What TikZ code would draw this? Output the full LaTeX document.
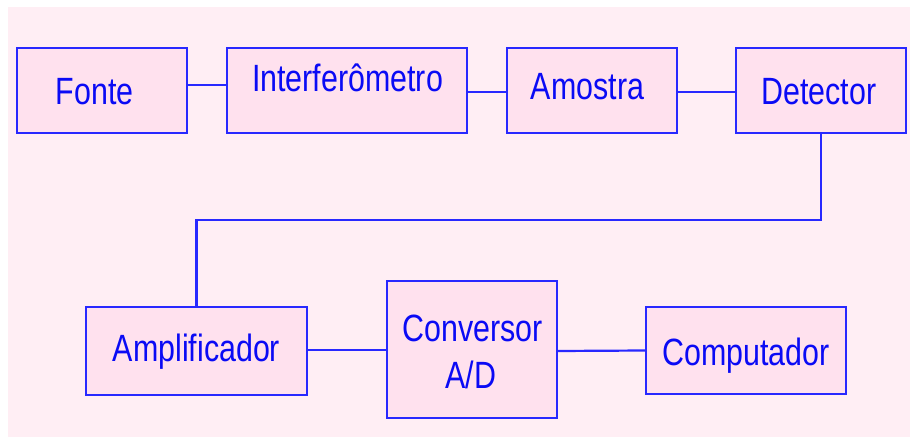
\documentclass[tikz,border=0pt]{standalone}
\usepackage{fontspec}
\setmainfont{Liberation Sans}[FakeStretch=0.8]
\definecolor{pagebg}{RGB}{255,238,244}
\definecolor{boxfill}{RGB}{255,225,238}
\definecolor{boxline}{RGB}{40,40,255}
\definecolor{labelblue}{RGB}{10,10,245}
\begin{document}
\begin{tikzpicture}[x=1pt,y=-1pt,
  stage/.style={draw=boxline,fill=boxfill,line width=2.2pt,rectangle,inner sep=0pt},
  lbl/.style={text=labelblue,font=\fontsize{38}{47}\selectfont,anchor=base,inner sep=0pt},
  wire/.style={draw=boxline,line width=2.2pt}]
  \useasboundingbox (0,0) rectangle (910,438);
  \fill[pagebg] (8,7) rectangle (910,437);

  % top row
  \node[stage,minimum width=170pt,minimum height=85pt] (fonte)   at (102,90.5) {};
  \node[stage,minimum width=240pt,minimum height=85pt] (interf)  at (347,90.5) {};
  \node[stage,minimum width=170pt,minimum height=85pt] (amostra) at (592,90.5) {};
  \node[stage,minimum width=170pt,minimum height=85pt] (detect)  at (821,90.5) {};

  % bottom row
  \node[stage,minimum width=221pt,minimum height=88pt]  (ampl) at (196.5,351) {};
  \node[stage,minimum width=170pt,minimum height=137pt] (conv) at (472,349.5) {};
  \node[stage,minimum width=200pt,minimum height=87pt]  (comp) at (746,350.5) {};

  % labels
  \node[lbl] (tfonte)   at (94.5,105) {Fonte};
  \node[lbl] (tinterf)  at (347.5,92) {Interferômetro};
  \node[lbl] (tamostra) at (587.5,100) {Amostra};
  \node[lbl] (tdetect)  at (819,105) {Detector};
  \node[lbl] (tampl)    at (196.5,361) {Amplificador};
  \node[lbl] (tconv)    at (472.5,341) {Conversor};
  \node[lbl] (tad)      at (471,388) {A/D};
  \node[lbl] (tcomp)    at (746,365) {Computador};

  % connectors
  \draw[wire] ([yshift=5.5pt]fonte.east) -- ([yshift=5.5pt]interf.west);
  \draw[wire] ([yshift=-1.5pt]interf.east) -- ([yshift=-1.5pt]amostra.west);
  \draw[wire] ([yshift=-1.5pt]amostra.east) -- ([yshift=-1.5pt]detect.west);
  \coordinate (bend) at (821,220);
  \draw[wire] (detect.south) -- (bend) -| (ampl.north);
  \draw[wire] ([yshift=1pt]ampl.east) -- ([yshift=-0.5pt]conv.west);
  \draw[wire] ([yshift=-1.5pt]conv.east) -- (comp.west);
\end{tikzpicture}
\end{document}
